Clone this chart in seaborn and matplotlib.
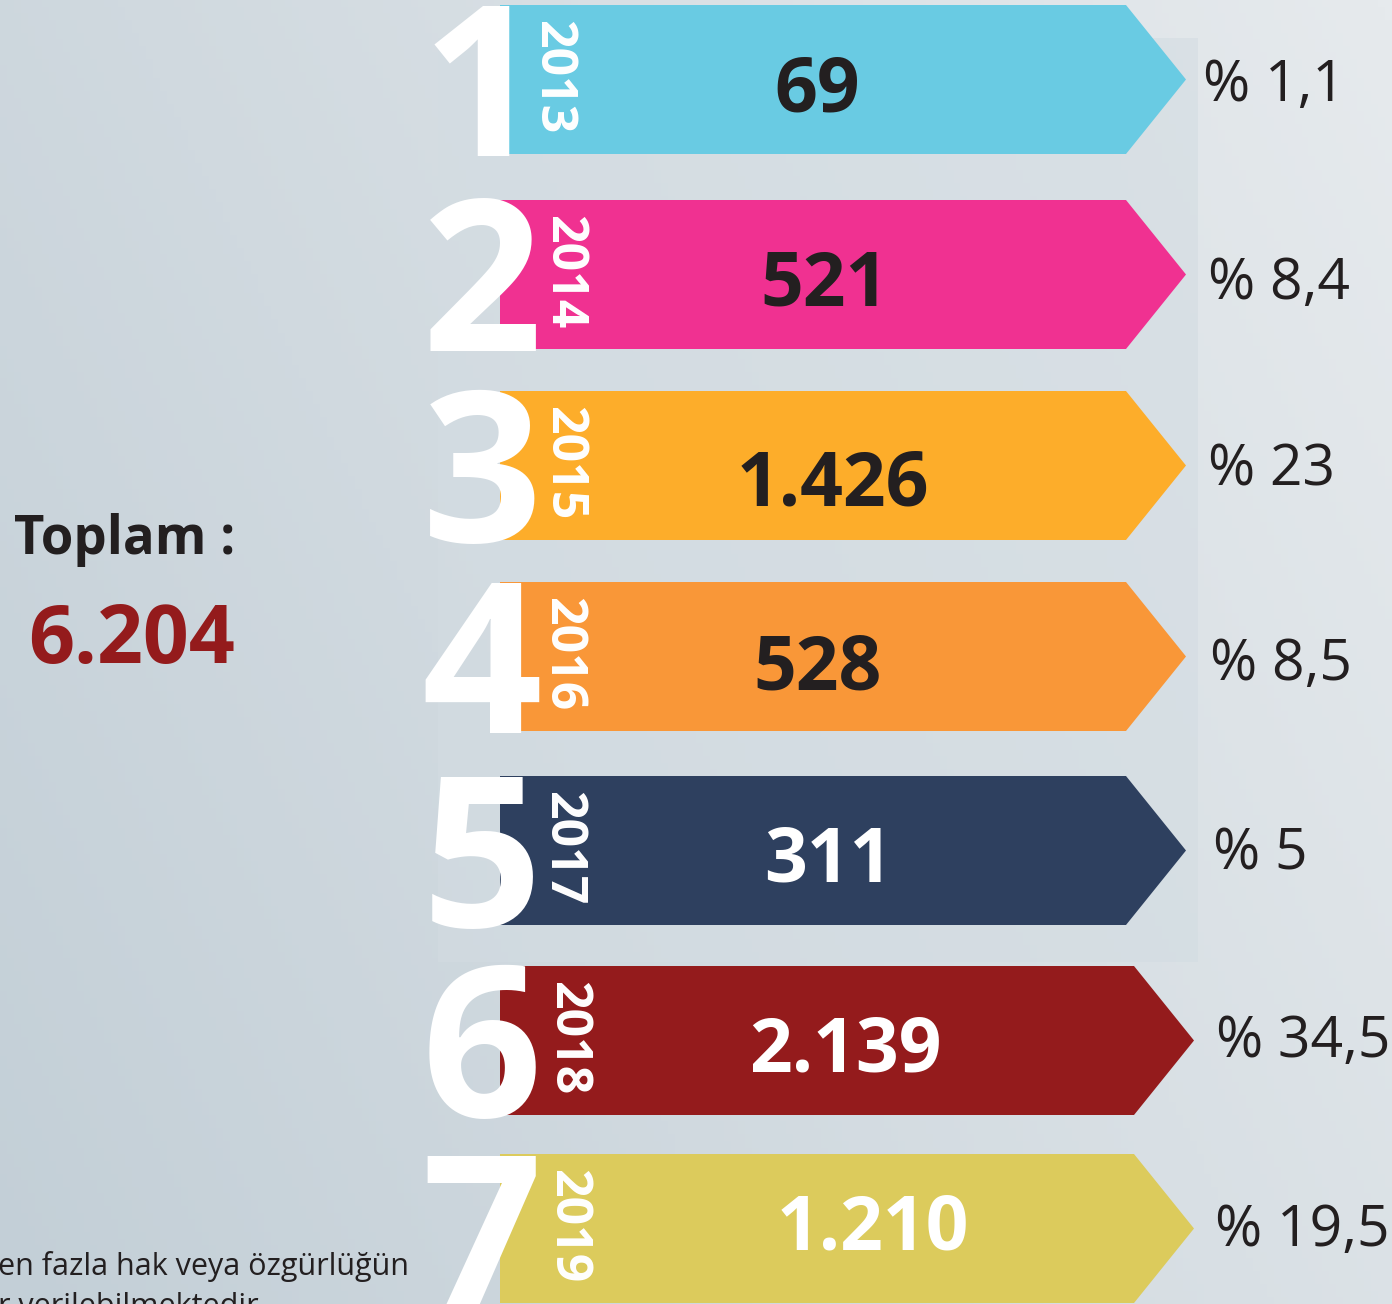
import numpy as np
import matplotlib
matplotlib.use("Agg")
import matplotlib.pyplot as plt
from matplotlib.patches import Polygon, Rectangle
import seaborn as sns

# data
ranks = ["1", "2", "3", "4", "5", "6", "7"]
years = ["2013", "2014", "2015", "2016", "2017", "2018", "2019"]
counts = ["69", "521", "1.426", "528", "311", "2.139", "1.210"]
shares = ["% 1,1", "% 8,4", "% 23", "% 8,5", "% 5", "% 34,5", "% 19,5"]
bar_colors = ["#69cbe3", "#f03191", "#fdad2a", "#f99738", "#2e405f", "#941b1c", "#dccb5c"]
count_colors = ["#231f20", "#231f20", "#231f20", "#231f20", "white", "white", "white"]
total_label = "Toplam :"
total_value = "6.204"
note_lines = ["en fazla hak veya özgürlüğün", "r verilebilmektedir"]

# layout (pixels from top-left)
row_tops = [5, 200, 391, 582, 776, 966, 1154]
row_h = 149
year_x = [552, 563, 563, 562, 562, 567, 567]
count_x = [817, 825, 833, 818, 828, 845, 873]
count_dy = [6, 4, 13, 6, 5, 4, -6]
share_x = [1203, 1208, 1208, 1210, 1213, 1216, 1215]
share_dy = [1, 4, 0, 3, -1, -4, -3]

sns.set_theme(style="white")
plt.rcParams["font.family"] = ["Open Sans", "DejaVu Sans"]

W, H = 1392, 1304
fig = plt.figure(figsize=(W / 100, H / 100), dpi=100)
ax = fig.add_axes([0, 0, 1, 1])
ax.set_xlim(0, W)
ax.set_ylim(H, 0)
ax.axis("off")

# background gradient
gx = np.linspace(0, 1, 200)
gy = np.linspace(0, 1, 200)
GX, GY = np.meshgrid(gx, gy)
grad = 0.55 * GX + 0.25 * (1 - GY)
cmap = matplotlib.colors.LinearSegmentedColormap.from_list("bg", ["#c3cfd7", "#e6eaed"])
ax.imshow(grad, cmap=cmap, extent=(0, W, H, 0), aspect="auto", zorder=0)

# lighter panel behind rows
ax.add_patch(Rectangle((438, 38), 760, 924, color="#d3dce2", alpha=0.6, zorder=1, lw=0))

left, rect_right, tip = 500, 1126, 1186
for i in range(len(years)):
    top = row_tops[i]
    cy = top + row_h / 2
    bot = top + row_h
    rr = rect_right + (8 if i >= 5 else 0)
    tp = tip + (8 if i >= 5 else 0)
    ax.add_patch(Polygon([(left, top), (rr, top), (tp, cy), (rr, bot), (left, bot)],
                         closed=True, color=bar_colors[i], lw=0, zorder=2))
    # big rank number
    ax.text(482, bot + 2, ranks[i], color="white", fontsize=152, fontweight="bold",
            ha="center", va="baseline", zorder=3)
    # year
    ax.text(year_x[i], cy - 2, years[i], color="white", fontsize=36, fontweight="bold",
            rotation=-90, ha="center", va="center", zorder=4)
    # value
    ax.text(count_x[i], cy + count_dy[i] + 7, counts[i], color=count_colors[i], fontsize=54,
            fontweight="bold", ha="center", va="center", zorder=4)
    # share
    ax.text(share_x[i], cy + share_dy[i] + 6, shares[i], color="#231f20", fontsize=41,
            ha="left", va="center", zorder=4)

ax.text(14, 540, total_label, color="#231f20", fontsize=38, fontweight="bold",
        ha="left", va="center", zorder=4)
ax.text(28, 642, total_value, color="#941b1c", fontsize=58, fontweight="bold",
        ha="left", va="center", zorder=4)

ax.text(-2, 1266, note_lines[0], color="#231f20", fontsize=22, ha="left", va="center", zorder=4)
ax.text(-2, 1307, note_lines[1], color="#231f20", fontsize=22, ha="left", va="center", zorder=4)

fig.savefig("out.png", dpi=100)
